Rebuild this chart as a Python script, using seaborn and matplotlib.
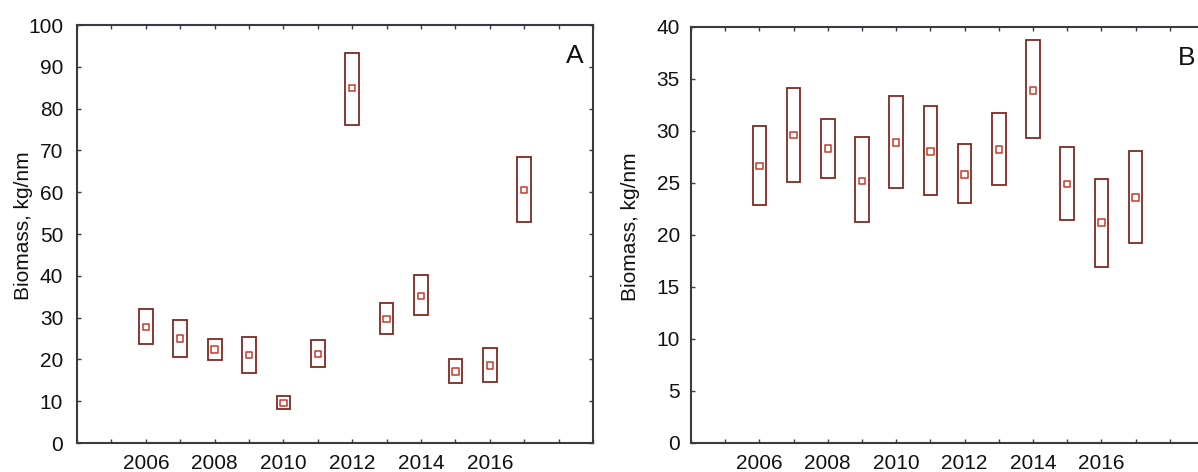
import numpy as np
import pandas as pd
import matplotlib
matplotlib.use("Agg")
import matplotlib.pyplot as plt
from matplotlib.ticker import MultipleLocator, FixedLocator
import seaborn as sns

years = [2006, 2007, 2008, 2009, 2010, 2011, 2012, 2013, 2014, 2015, 2016, 2017]

a_mean = [27.8, 25.0, 22.4, 21.1, 9.6, 21.3, 84.9, 29.7, 35.2, 17.1, 18.6, 60.5]
a_low = [23.8, 20.5, 19.9, 16.8, 8.2, 18.1, 76.2, 26.1, 30.6, 14.4, 14.5, 52.9]
a_high = [32.0, 29.4, 24.8, 25.4, 11.2, 24.6, 93.2, 33.6, 40.1, 20.0, 22.7, 68.5]

b_mean = [26.6, 29.6, 28.3, 25.2, 28.9, 28.0, 25.8, 28.2, 33.9, 24.9, 21.2, 23.6]
b_low = [22.9, 25.1, 25.5, 21.2, 24.5, 23.8, 23.1, 24.8, 29.3, 21.4, 16.9, 19.2]
b_high = [30.45, 34.1, 31.1, 29.4, 33.4, 32.4, 28.7, 31.7, 38.7, 28.4, 25.4, 28.1]

xtick_labels = ["2006", "2008", "2010", "2012", "2014", "2016"]
ylabel = "Biomass, kg/nm"
panel_labels = ["A", "B"]

sns.set_theme(style="white")
plt.rcParams["font.family"] = ["Liberation Sans", "DejaVu Sans"]

box_color = "#7e2a22"
mean_color = "#c43a2c"
spine_color = "#3c3a40"

fig = plt.figure(figsize=(11.98, 4.72), dpi=100)
axA = fig.add_axes([0.0643, 0.0614, 0.4307, 0.8856])
axB = fig.add_axes([0.5768, 0.062, 0.4282, 0.881])


def draw(ax, mean, low, high, ymax, ystep, ylabpad, labx):
    df = pd.DataFrame({"year": years, "mean": mean, "low": low, "high": high})
    heights = df["high"] - df["low"]
    ax.bar(df["year"], heights, bottom=df["low"], width=0.4,
           facecolor="none", edgecolor=box_color, linewidth=1.3, zorder=2)
    sns.scatterplot(data=df, x="year", y="mean", ax=ax, marker="s", s=22,
                    facecolor="none", edgecolor=mean_color, linewidth=1.1,
                    zorder=3, legend=False)
    ax.set_xlim(2004, 2019)
    ax.set_ylim(0, ymax)
    ax.xaxis.set_major_locator(FixedLocator([int(t) for t in xtick_labels]))
    ax.set_xticklabels(xtick_labels)
    ax.xaxis.set_minor_locator(MultipleLocator(1))
    ax.yaxis.set_major_locator(MultipleLocator(ystep))
    ax.tick_params(axis="both", which="both", direction="in", top=True,
                   right=True, bottom=True, left=True, color=spine_color,
                   labelsize=15, labelcolor="#111111")
    ax.tick_params(axis="both", which="major", length=3, width=1)
    ax.tick_params(axis="both", which="minor", length=3, width=1)
    ax.tick_params(axis="x", which="major", pad=8)
    ax.tick_params(axis="y", which="major", pad=ylabpad)
    ax.set_xlabel("")
    ax.set_ylabel(ylabel, fontsize=15, color="#111111")
    ax.yaxis.set_label_coords(labx, 0.52)
    for s in ax.spines.values():
        s.set_color(spine_color)
        s.set_linewidth(1.5)
    ax.grid(False)


draw(axA, a_mean, a_low, a_high, 100, 10, 10, -0.085)
draw(axB, b_mean, b_low, b_high, 40, 5, 8, -0.099)

axA.text(1 - 9 / 516, 0.955, panel_labels[0], transform=axA.transAxes,
         ha="right", va="top", fontsize=19, color="#111111")
axB.text(1 - 9 / 513, 0.955, panel_labels[1], transform=axB.transAxes,
         ha="right", va="top", fontsize=19, color="#111111")

fig.savefig("out.png", dpi=100, facecolor="white")
